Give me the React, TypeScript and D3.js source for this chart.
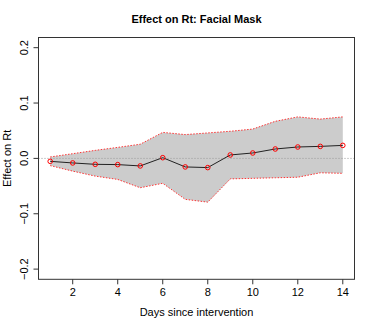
import React from "react";
import * as d3 from "d3";

// days since intervention
const days = [1, 2, 3, 4, 5, 6, 7, 8, 9, 10, 11, 12, 13, 14];
// estimated effect on Rt
const effect = [-0.0053, -0.0082, -0.0107, -0.0112, -0.0136, 0.0013, -0.0154, -0.0166, 0.0062, 0.0098, 0.017, 0.0206, 0.0217, 0.0235];
// upper / lower bounds of the interval
const upper = [0.0026, 0.0085, 0.0145, 0.0199, 0.0256, 0.047, 0.043, 0.046, 0.049, 0.053, 0.067, 0.075, 0.071, 0.075];
const lower = [-0.013, -0.023, -0.032, -0.038, -0.053, -0.045, -0.074, -0.079, -0.037, -0.036, -0.035, -0.034, -0.026, -0.027];

const xTicks = [2, 4, 6, 8, 10, 12, 14];
const yTicks = [-0.2, -0.1, 0, 0.1, 0.2];

const W = 374;
const H = 327;
const box = { left: 38.5, right: 354.5, top: 37.5, bottom: 279.3 };
const font = "'Liberation Sans', Arial, Helvetica, sans-serif";

export default function App() {
  // R style limits: data range padded by 4%
  const x = d3.scaleLinear().domain([0.48, 14.52]).range([box.left, box.right]);
  const y = d3.scaleLinear().domain([-0.2184, 0.2184]).range([box.bottom, box.top]);

  const rows = days.map((d, i) => ({ d, m: effect[i], lo: lower[i], hi: upper[i] }));

  const band = d3.area<any>()
    .x(r => x(r.d))
    .y0(r => y(r.lo))
    .y1(r => y(r.hi));
  const upLine = d3.line<any>().x(r => x(r.d)).y(r => y(r.hi));
  const loLine = d3.line<any>().x(r => x(r.d)).y(r => y(r.lo));
  const midLine = d3.line<any>().x(r => x(r.d)).y(r => y(r.m));

  return (
    <svg width={W} height={H} style={{ position: "absolute", left: 0, top: 0, background: "#fff" }} fontFamily={font}>
      <text x={(box.left + box.right) / 2} y={22.5} textAnchor="middle" fontSize={11} fontWeight="bold">
        Effect on Rt: Facial Mask
      </text>

      <path d={band(rows) || ""} fill="#cccccc" stroke="none" />
      <line x1={box.left} x2={box.right} y1={y(0)} y2={y(0)} stroke="#999" strokeWidth={1} strokeDasharray="1,2" />
      <path d={upLine(rows) || ""} fill="none" stroke="#ff2020" strokeWidth={0.9} strokeDasharray="1.5,1.5" />
      <path d={loLine(rows) || ""} fill="none" stroke="#ff2020" strokeWidth={0.9} strokeDasharray="1.5,1.5" />
      <path d={midLine(rows) || ""} fill="none" stroke="#222" strokeWidth={1} />
      {rows.map(r => (
        <circle key={r.d} cx={x(r.d)} cy={y(r.m)} r={2.3} fill="none" stroke="#ff0000" strokeWidth={1} />
      ))}

      <rect x={box.left} y={box.top} width={box.right - box.left} height={box.bottom - box.top} fill="none" stroke="#333" strokeWidth={1} />

      {xTicks.map(t => (
        <g key={t}>
          <line x1={x(t)} x2={x(t)} y1={box.bottom} y2={box.bottom + 5} stroke="#333" />
          <text x={x(t)} y={296} textAnchor="middle" fontSize={11}>{t}</text>
        </g>
      ))}
      {yTicks.map(t => (
        <g key={t}>
          <line x1={box.left - 5} x2={box.left} y1={y(t)} y2={y(t)} stroke="#333" />
          <text transform={`translate(28,${y(t)}) rotate(-90)`} textAnchor="middle" fontSize={11}>
            {d3.format(".1f")(t).replace("-", "\u2212")}
          </text>
        </g>
      ))}

      <text x={(box.left + box.right) / 2} y={316} textAnchor="middle" fontSize={11}>
        Days since intervention
      </text>
      <text transform={`translate(10.5,${(box.top + box.bottom) / 2}) rotate(-90)`} textAnchor="middle" fontSize={11}>
        Effect on Rt
      </text>
    </svg>
  );
}
